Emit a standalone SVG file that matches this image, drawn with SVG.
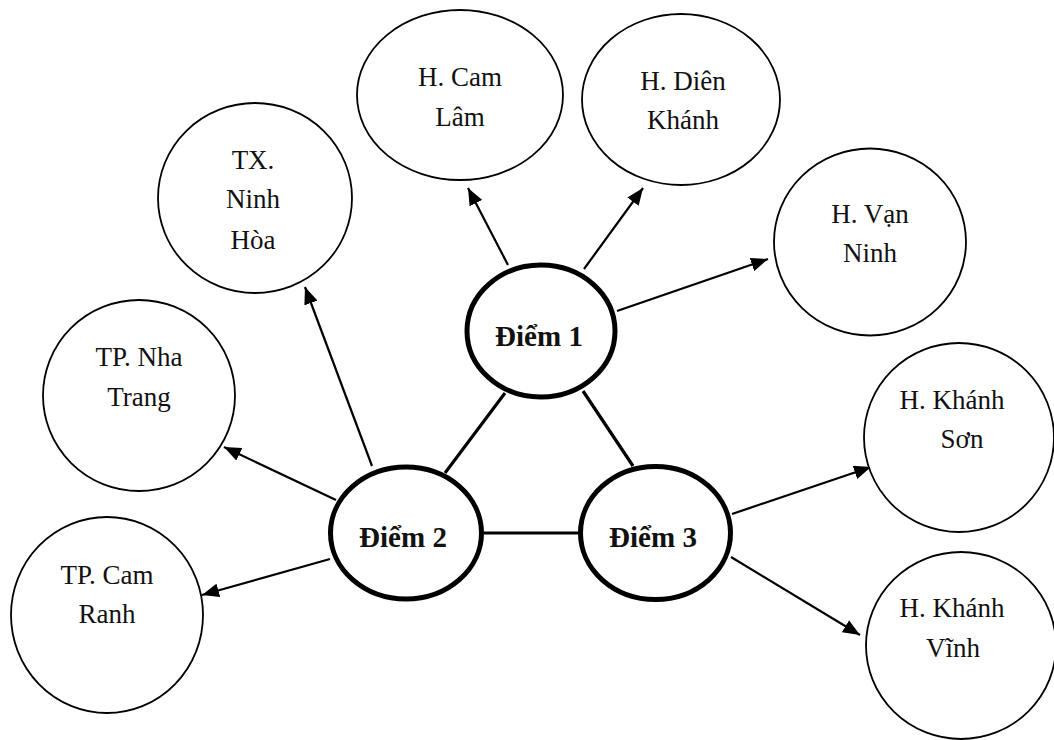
<svg xmlns="http://www.w3.org/2000/svg" width="1054" height="740" viewBox="0 0 1054 740">
<style>
.c{fill:#fff;stroke:#000;stroke-width:1.8}
.m{fill:#fff;stroke:#000;stroke-width:5}
.t{font-family:"Liberation Serif","Times New Roman",serif;font-size:27px;fill:#111;text-anchor:middle}
.b{font-family:"Liberation Serif","Times New Roman",serif;font-size:29px;font-weight:bold;fill:#111;text-anchor:middle}
.a{stroke:#000;stroke-width:2.2;fill:none;marker-end:url(#ah)}
.l{stroke:#000;stroke-width:3.2;fill:none}
</style>
<defs>
<marker id="ah" markerUnits="userSpaceOnUse" markerWidth="18" markerHeight="14" refX="17" refY="7" orient="auto">
<path d="M0,0 L17,7 L0,14 z" fill="#000"/>
</marker>
</defs>
<rect width="1054" height="740" fill="#fff"/>
<g id="connectors">
<line class="l" x1="505" y1="393" x2="445" y2="473"/>
<line class="l" x1="583" y1="391" x2="633" y2="466"/>
<line class="l" x1="484" y1="533" x2="578" y2="533"/>
<line class="a" x1="508" y1="265" x2="468" y2="188"/>
<line class="a" x1="584" y1="269" x2="643" y2="188"/>
<line class="a" x1="617" y1="311" x2="768" y2="259"/>
<line class="a" x1="372" y1="466" x2="305" y2="287"/>
<line class="a" x1="336" y1="500" x2="224" y2="447"/>
<line class="a" x1="330" y1="559" x2="202" y2="595"/>
<line class="a" x1="732" y1="514" x2="871" y2="467"/>
<line class="a" x1="731" y1="557" x2="860" y2="635"/>
</g>
<g id="diem1"><ellipse class="m" cx="541" cy="331" rx="74" ry="66"/><text class="b" x="539" y="346">Điểm 1</text></g>
<g id="diem2"><ellipse class="m" cx="406" cy="533" rx="75.5" ry="66"/><text class="b" x="403" y="547">Điểm 2</text></g>
<g id="diem3"><ellipse class="m" cx="655.5" cy="533" rx="75" ry="66.5"/><text class="b" x="653" y="547">Điểm 3</text></g>
<g id="camlam"><ellipse class="c" cx="460" cy="95" rx="103" ry="85"/><text class="t" x="460" y="86">H. Cam</text><text class="t" x="460" y="126">Lâm</text></g>
<g id="dienkhanh"><ellipse class="c" cx="681" cy="99.5" rx="99" ry="85.5"/><text class="t" x="683" y="90">H. Diên</text><text class="t" x="683" y="129">Khánh</text></g>
<g id="vanninh"><ellipse class="c" cx="870" cy="242" rx="96" ry="93.5"/><text class="t" x="870" y="223">H. Vạn</text><text class="t" x="870" y="262">Ninh</text></g>
<g id="ninhhoa"><ellipse class="c" cx="255" cy="198" rx="97" ry="95"/><text class="t" x="253" y="169">TX.</text><text class="t" x="253" y="208">Ninh</text><text class="t" x="253" y="249">Hòa</text></g>
<g id="nhatrang"><ellipse class="c" cx="139" cy="395.5" rx="96" ry="95.5"/><text class="t" x="139" y="366">TP. Nha</text><text class="t" x="139" y="406">Trang</text></g>
<g id="camranh"><ellipse class="c" cx="107" cy="615" rx="96" ry="98"/><text class="t" x="107" y="584">TP. Cam</text><text class="t" x="107" y="623">Ranh</text></g>
<g id="khanhson"><ellipse class="c" cx="959" cy="437.5" rx="95" ry="94.5"/><text class="t" x="952" y="409">H. Khánh</text><text class="t" x="962" y="448">Sơn</text></g>
<g id="khanhvinh"><ellipse class="c" cx="961" cy="645.5" rx="95" ry="93.5"/><text class="t" x="952" y="617">H. Khánh</text><text class="t" x="953" y="657">Vĩnh</text></g>
</svg>
